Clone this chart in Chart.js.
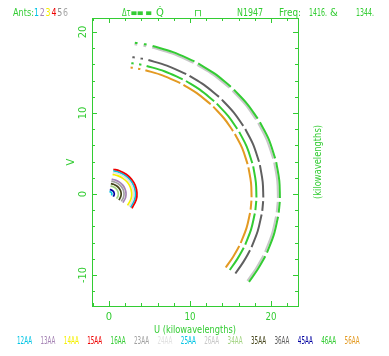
<!DOCTYPE html>
<html lang="en">
<head>
<script src="https://cdn.jsdelivr.net/npm/chart.js@4.4.0/dist/chart.umd.min.js"></script>
<style>
    html, body { margin: 0; padding: 0; background: #fff; }
    #wrap { position: relative; width: 389px; height: 356px; }
</style>
</head>
<body>
<div id="wrap"><canvas id="uv"></canvas></div>
<script>
    // baselines as listed along the bottom
    const baselines = ["12AA","13AA","14AA","15AA","16AA","23AA","24AA","25AA","26AA","34AA","35AA","36AA","45AA","46AA","56AA"];
    const colours = ["#00c4e4","#a583b4","#f4f000","#ee0000","#33cc33","#a0a0a0","#e2e2e2","#00c4e4","#c8c8c8","#a4d484","#44441a","#606060","#0000a0","#33cc33","#e39a22"];

    // uv tracks, [u, v] in kilowavelengths, null = gap in the track
    const t12 = [[0.05,0.30],[0.13,0.28],[0.22,0.24],[0.28,0.18],[0.33,0.10],[0.35,0.02],[0.34,-0.07],[0.29,-0.17]];
    const t13 = [[0.33,1.83],[0.79,1.71],[1.29,1.46],[1.70,1.09],[1.97,0.63],[2.10,0.10],[2.05,-0.42],[1.72,-1.06]];
    const t14 = [[0.44,2.42],[1.05,2.27],[1.72,1.93],[2.27,1.44],[2.63,0.84],[2.80,0.13],[2.73,-0.55],[2.29,-1.41]];
    const t15 = [[0.54,3.06],[1.29,2.87],[2.13,2.44],[2.79,1.82],[3.24,1.06],[3.45,0.16],[3.36,-0.70],[2.83,-1.78]];
    const t16 = [[3.19,18.67],[3.52,18.64],null,[4.30,18.50],[4.64,18.45],null,
                 [5.38,18.28],[7.91,17.52],[10.55,16.37],null,[11.01,16.12],[13.00,14.89],[15.04,13.25],null,
                 [15.42,12.89],[17.07,11.11],[18.36,9.30],null,[18.63,8.86],[19.71,6.77],[20.51,4.40],null,
                 [20.64,3.93],[21.02,1.64],[21.10,-0.49],null,[21.08,-0.98],[20.95,-2.31],null,
                 [20.87,-2.80],[20.34,-5.05],[19.50,-7.24],null,[19.29,-7.69],[18.36,-9.30],[17.28,-10.85]];
    const t23 = [[0.29,1.58],[0.69,1.48],[1.14,1.26],[1.50,0.94],[1.74,0.55],[1.85,0.08],[1.80,-0.36],[1.52,-0.92]];
    const t24 = [[0.48,2.67],[1.14,2.50],[1.88,2.13],[2.47,1.59],[2.87,0.92],[3.05,0.14],[2.97,-0.61],[2.50,-1.55]];
    const t25 = [[0.51,2.87],[1.22,2.69],[2.00,2.29],[2.63,1.71],[3.06,0.99],[3.25,0.15],[3.17,-0.65],[2.66,-1.66]];
    const t26 = [[3.15,18.48],[3.48,18.44],null,[4.25,18.31],[4.59,18.25],null,
                 [5.32,18.08],[7.82,17.33],[10.43,16.19],null,[10.88,15.95],[12.84,14.74],[14.87,13.11],null,
                 [15.24,12.75],[16.87,11.00],[18.14,9.20],null,[18.41,8.77],[19.47,6.69],[20.27,4.36],null,
                 [20.39,3.89],[20.77,1.63],[20.85,-0.49],null,[20.83,-0.97],[20.70,-2.28],null,
                 [20.62,-2.77],[20.10,-4.99],[19.27,-7.16],null,[19.06,-7.61],[18.14,-9.20],[17.08,-10.73]];
    const t34 = [[0.18,0.99],[0.43,0.93],[0.71,0.79],[0.93,0.59],[1.08,0.34],[1.15,0.05],[1.12,-0.23],[0.94,-0.57]];
    const t35 = [[0.23,1.28],[0.56,1.21],[0.92,1.02],[1.21,0.76],[1.41,0.44],[1.50,0.07],[1.46,-0.29],[1.23,-0.75]];
    const t36 = [[2.88,16.89],[3.18,16.86],null,[3.89,16.74],[4.19,16.69],null,
                 [4.86,16.54],[7.14,15.85],[9.53,14.81],null,[9.94,14.59],[11.73,13.47],[13.58,11.99],null,
                 [13.93,11.66],[15.41,10.05],[16.57,8.41],null,[16.82,8.02],[17.79,6.12],[18.52,3.98],null,
                 [18.63,3.56],[18.97,1.49],[19.05,-0.44],null,[19.03,-0.89],[18.92,-2.09],null,
                 [18.84,-2.53],[18.36,-4.57],[17.60,-6.55],null,[17.41,-6.96],[16.57,-8.41],[15.60,-9.82]];
    const t45 = [[0.10,0.54],[0.24,0.51],[0.40,0.43],[0.53,0.32],[0.61,0.19],[0.65,0.03],[0.63,-0.12],[0.53,-0.32]];
    const t46 = [[2.75,16.15],[3.04,16.12],null,[3.71,16.01],[4.00,15.96],null,
                 [4.64,15.81],[6.83,15.16],[9.10,14.16],null,[9.50,13.95],[11.21,12.88],[12.98,11.46],null,
                 [13.30,11.15],[14.72,9.61],[15.83,8.04],null,[16.07,7.67],[17.00,5.85],[17.69,3.81],null,
                 [17.80,3.40],[18.13,1.42],[18.20,-0.43],null,[18.18,-0.85],[18.07,-1.99],null,
                 [18.00,-2.42],[17.54,-4.37],[16.82,-6.26],null,[16.63,-6.65],[15.83,-8.04],[14.91,-9.38]];
    const t56 = [[2.66,15.61],[2.94,15.58],null,[3.59,15.47],[3.87,15.42],null,
                 [4.49,15.28],[6.60,14.65],[8.80,13.68],null,[9.19,13.48],[10.84,12.45],[12.55,11.08],null,
                 [12.87,10.78],[14.24,9.29],[15.31,7.77],null,[15.54,7.41],[16.44,5.66],[17.11,3.68],null,
                 [17.21,3.29],[17.53,1.37],[17.60,-0.41],null,[17.58,-0.82],[17.48,-1.93],null,
                 [17.41,-2.34],[16.97,-4.22],[16.26,-6.05],null,[16.09,-6.43],[15.31,-7.77],[14.41,-9.07]];
    const tracks = [t12,t13,t14,t15,t16,t23,t24,t25,t26,t34,t35,t36,t45,t46,t56];

    const xTicks = [0, 10, 20];
    const yTicks = [-10, 0, 10, 20];
    const xMinor = [-2,0,2,4,6,8,10,12,14,16,18,20,22];
    const yMinor = [-12,-10,-8,-6,-4,-2,0,2,4,6,8,10,12,14,16,18,20];

    const GREEN = "#33cc33";
    const FONT = '10px "DejaVu Sans", sans-serif';

    function txt(ctx, s, x, y, o) {
        o = o || {};
        ctx.save();
        ctx.translate(x, y);
        if (o.rot) ctx.rotate(o.rot);
        ctx.font = FONT;
        ctx.textAlign = o.align || "center";
        ctx.textBaseline = "middle";
        ctx.fillStyle = o.color || GREEN;
        if (o.w) ctx.fillText(s, 0, 0, o.w); else ctx.fillText(s, 0, 0);
        ctx.restore();
    }

    const frame = {
        id: "frame",
        afterDraw(chart) {
            const {ctx, chartArea: a, scales: {x, y}} = chart;
            ctx.save();
            ctx.strokeStyle = GREEN;
            ctx.lineWidth = 1;
            ctx.strokeRect(a.left + 0.5, a.top + 0.5, a.right - a.left, a.bottom - a.top);
            ctx.beginPath();
            xMinor.forEach(t => {
                const px = Math.round(x.getPixelForValue(t)) + 0.5;
                const len = xTicks.includes(t) ? 5 : 3;
                ctx.moveTo(px, a.top); ctx.lineTo(px, a.top + len);
                ctx.moveTo(px, a.bottom); ctx.lineTo(px, a.bottom - len);
            });
            yMinor.forEach(t => {
                const py = Math.round(y.getPixelForValue(t)) + 0.5;
                const len = yTicks.includes(t) ? 5 : 3;
                ctx.moveTo(a.left, py); ctx.lineTo(a.left + len, py);
                ctx.moveTo(a.right, py); ctx.lineTo(a.right - len, py);
            });
            ctx.stroke();
            ctx.restore();

            xTicks.forEach(t => txt(ctx, String(t), x.getPixelForValue(t), a.bottom + 11, {w: 11}));
            yTicks.forEach(t => txt(ctx, String(t), a.left - 9, y.getPixelForValue(t), {rot: -Math.PI / 2, w: 16}));

            const midY = (a.top + a.bottom) / 2;
            txt(ctx, "U (kilowavelengths)", (a.left + a.right) / 2, a.bottom + 24, {w: 82});
            txt(ctx, "V", a.left - 21, midY, {rot: -Math.PI / 2});
            txt(ctx, "(kilowavelengths)", a.right + 20, midY, {rot: -Math.PI / 2, w: 74});

            // header line
            txt(ctx, "Ants:", 13, 13, {align: "left", w: 21});
            ["1","2","3","4","5","6"].forEach((d, i) =>
                txt(ctx, d, 34 + i * 5.8, 13, {align: "left", color: ["#00c4e4","#a583b4","#f4f000","#ee0000","#909090","#a8a8a8"][i], w: 5}));
            txt(ctx, "Δτ▬▬ ▬", 122, 13, {align: "left", w: 30});
            txt(ctx, "Q̇", 160, 13);
            txt(ctx, "⊓", 198, 13);
            txt(ctx, "N1947", 237, 13, {align: "left", w: 26});
            txt(ctx, "Freq:", 279, 13, {align: "left", w: 22});
            txt(ctx, "1416.", 309, 13, {align: "left", w: 18});
            txt(ctx, "&", 330, 13, {align: "left", w: 8});
            txt(ctx, "1344.", 356, 13, {align: "left", w: 18});

            // baseline key
            baselines.forEach((b, i) => txt(ctx, b, 17 + i * 23.4, 341, {align: "left", color: colours[i], w: 15}));
        }
    };

    const datasets = baselines.map((b, i) => ({
        label: b,
        data: tracks[i].map(p => p ? {x: p[0], y: p[1]} : {x: null, y: null}),
        showLine: true,
        borderColor: colours[i],
        borderWidth: tracks[i].length > 10 ? 2 : 1.7,
        pointRadius: 0,
        tension: 0.35,
        spanGaps: false
    }));

    new Chart(document.getElementById("uv"), {
        type: "scatter",
        data: {datasets: datasets},
        options: {
            responsive: true,
            maintainAspectRatio: false,
            animation: false,
            layout: {padding: {left: 92, right: 91, top: 18, bottom: 50}},
            plugins: {legend: {display: false}, tooltip: {enabled: false}},
            scales: {
                x: {type: "linear", min: -2.1, max: 23.33, display: false},
                y: {type: "linear", min: -13.83, max: 21.73, display: false}
            }
        },
        plugins: [frame]
    });
</script>
</body>
</html>
